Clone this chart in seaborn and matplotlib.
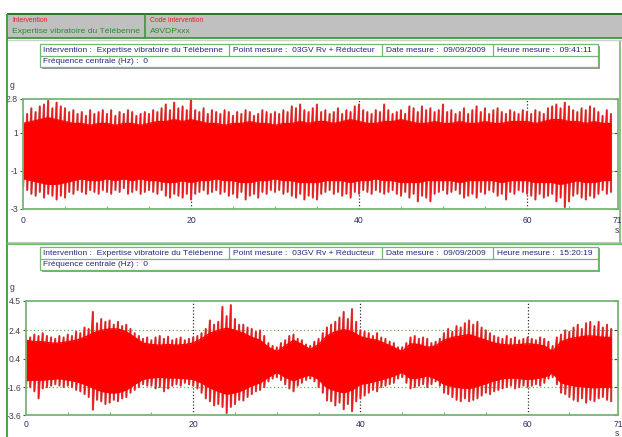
import numpy as np
import matplotlib
matplotlib.use("Agg")
import matplotlib.pyplot as plt
import seaborn as sns
from matplotlib.patches import Rectangle
from matplotlib.lines import Line2D

# ---------------- data ----------------
core_step = 1.0      # s
spike_step = 0.5     # s

# panel 1 (09:41:11) : core band and spike envelope (g)
top_core_hi = [1.5, 1.6, 1.7, 1.8, 1.7, 1.6, 1.5, 1.5, 1.4, 1.5,
               1.5, 1.4, 1.5, 1.5, 1.4, 1.5, 1.6, 1.6, 1.7, 1.6,
               1.7, 1.6, 1.5, 1.5, 1.4, 1.5, 1.5, 1.6, 1.5, 1.5,
               1.4, 1.5, 1.5, 1.6, 1.5, 1.6, 1.6, 1.5, 1.6, 1.7,
               1.6, 1.5, 1.5, 1.6, 1.6, 1.7, 1.6, 1.5, 1.5, 1.6,
               1.5, 1.5, 1.6, 1.5, 1.5, 1.6, 1.5, 1.5, 1.6, 1.6,
               1.6, 1.5, 1.6, 1.7, 1.7, 1.6, 1.6, 1.5, 1.6, 1.5, 1.5]
top_core_lo = [-1.4, -1.5, -1.6, -1.7, -1.7, -1.6, -1.5, -1.4, -1.5, -1.5,
               -1.4, -1.5, -1.4, -1.5, -1.4, -1.5, -1.5, -1.6, -1.6, -1.5,
               -1.6, -1.5, -1.5, -1.4, -1.5, -1.5, -1.6, -1.6, -1.5, -1.5,
               -1.4, -1.5, -1.5, -1.6, -1.6, -1.6, -1.5, -1.5, -1.5, -1.6,
               -1.5, -1.5, -1.4, -1.5, -1.5, -1.6, -1.6, -1.6, -1.5, -1.5,
               -1.5, -1.5, -1.6, -1.5, -1.5, -1.5, -1.5, -1.6, -1.5, -1.5,
               -1.5, -1.6, -1.6, -1.6, -1.7, -1.6, -1.5, -1.6, -1.6, -1.5, -1.5]
top_spike_hi = [1.9, 2.0, 2.3, 2.1, 2.4, 2.5, 2.7, 2.3, 2.6, 2.4,
                2.3, 2.1, 2.2, 2.0, 2.1, 1.9, 2.2, 2.0, 2.1, 2.2,
                2.0, 2.2, 1.9, 2.1, 2.0, 2.2, 2.1, 1.9, 2.0, 2.1,
                2.0, 2.2, 2.1, 2.3, 2.5, 2.2, 2.6, 2.3, 2.4, 2.2,
                2.8, 2.2, 2.1, 2.3, 2.0, 2.2, 2.1, 2.0, 2.2, 2.1,
                1.9, 2.1, 2.0, 2.2, 2.1, 1.9, 2.0, 2.2, 2.1, 2.0,
                2.1, 2.0, 2.2, 2.1, 2.4, 2.3, 2.5, 2.2, 2.1, 2.3,
                2.5, 2.1, 2.2, 2.0, 2.1, 2.3, 2.0, 2.2, 2.1, 2.4,
                2.5, 2.2, 2.1, 2.0, 2.2, 2.1, 2.5, 2.2, 2.0, 2.1,
                2.2, 2.0, 2.4, 2.3, 2.1, 2.4, 2.2, 2.3, 2.1, 2.2,
                2.5, 2.1, 2.2, 2.0, 2.1, 2.3, 2.0, 2.2, 2.4, 2.1,
                2.3, 2.0, 2.2, 2.3, 2.1, 2.0, 2.2, 2.1, 2.0, 2.2,
                2.1, 2.0, 2.2, 2.1, 2.0, 2.3, 2.4, 2.5, 2.3, 2.6,
                2.4, 2.2, 2.1, 2.3, 2.2, 2.4, 2.3, 2.1, 1.9, 2.2, 2.0]
top_spike_lo = [-1.9, -2.0, -2.2, -2.3, -2.1, -2.4, -2.2, -2.3, -2.5, -2.3,
                -2.4, -2.1, -2.2, -2.0, -2.1, -2.2, -2.0, -2.1, -2.2, -2.0,
                -2.1, -2.2, -2.0, -2.1, -1.9, -2.2, -2.1, -2.0, -2.2, -2.1,
                -2.0, -2.1, -2.2, -2.0, -2.3, -2.4, -2.2, -2.3, -2.4, -2.2,
                -2.5, -2.2, -2.1, -2.0, -2.2, -2.1, -2.0, -2.2, -2.1, -2.3,
                -2.2, -2.4, -2.1, -2.5, -2.3, -2.2, -2.4, -2.1, -2.2, -2.0,
                -2.1, -2.0, -2.2, -2.1, -2.3, -2.4, -2.2, -2.5, -2.3, -2.4,
                -2.5, -2.2, -2.1, -2.0, -2.2, -2.1, -2.3, -2.2, -2.4, -2.1,
                -2.2, -2.0, -2.1, -2.2, -2.0, -2.1, -2.2, -2.1, -2.0, -2.2,
                -2.3, -2.1, -2.4, -2.2, -2.6, -2.3, -2.4, -2.6, -2.2, -2.1,
                -2.0, -2.2, -2.1, -2.0, -2.2, -2.4, -2.3, -2.2, -2.4, -2.1,
                -2.2, -2.0, -2.1, -2.3, -2.2, -2.5, -2.1, -2.2, -2.0, -2.1,
                -2.2, -2.3, -2.5, -2.2, -2.4, -2.3, -2.2, -2.6, -2.4, -2.9,
                -2.6, -2.3, -2.2, -2.4, -2.5, -2.3, -2.4, -2.2, -2.0, -2.2, -2.1]

# panel 2 (15:20:19)
bot_core_hi = [1.7, 1.6, 1.6, 1.5, 1.5, 1.6, 1.7, 1.9, 2.2, 2.4,
               2.5, 2.5, 2.3, 1.9, 1.5, 1.4, 1.35, 1.4, 1.35, 1.4,
               1.5, 1.8, 2.2, 2.4, 2.55, 2.4, 2.2, 1.9, 1.7, 1.2,
               0.9, 1.3, 1.7, 1.4, 1.05, 1.4, 2.0, 2.3, 2.45, 2.3,
               1.95, 1.8, 1.7, 1.45, 1.2, 0.9, 1.45, 1.4, 1.2, 1.3,
               1.7, 1.9, 2.0, 2.1, 1.9, 1.7, 1.5, 1.4, 1.35, 1.4,
               1.45, 1.4, 1.3, 0.9, 1.6, 1.8, 1.9, 2.0, 2.0, 1.9, 1.9]
bot_core_lo = [-1.15, -1.1, -1.1, -1.05, -1.0, -1.1, -1.2, -1.4, -1.65, -1.9,
               -2.0, -2.0, -1.8, -1.4, -1.05, -0.95, -0.9, -0.95, -0.95, -1.0,
               -1.05, -1.3, -1.65, -1.9, -2.1, -2.0, -1.8, -1.5, -1.3, -0.9,
               -0.55, -0.9, -1.15, -0.9, -0.75, -1.05, -1.65, -1.85, -2.0, -1.8,
               -1.4, -1.3, -1.15, -1.0, -0.8, -0.55, -1.0, -0.95, -0.8, -1.0,
               -1.4, -1.55, -1.65, -1.7, -1.55, -1.35, -1.15, -1.0, -0.95, -1.0,
               -1.05, -1.0, -0.9, -0.6, -1.3, -1.45, -1.55, -1.6, -1.65, -1.6, -1.6]
bot_spike_hi = [2.0, 1.9, 2.1, 2.0, 2.2, 2.0, 1.9, 1.8, 2.0, 1.9,
                2.1, 2.0, 2.3, 2.2, 2.6, 2.5, 3.7, 2.9, 3.2, 3.0,
                3.1, 2.8, 3.0, 2.7, 2.8, 2.5, 2.2, 2.0, 1.8, 1.9,
                1.7, 1.9, 2.0, 1.8, 1.95, 1.7, 1.8, 1.9, 1.7, 1.8,
                1.9, 2.0, 2.2, 2.5, 3.1, 2.8, 3.0, 4.06, 3.4, 4.18,
                3.2, 2.8, 2.8, 2.6, 2.5, 2.3, 2.4, 2.0, 1.5, 1.3,
                1.2, 1.5, 1.7, 2.0, 2.1, 1.8, 1.7, 1.4, 1.3, 1.6,
                1.8, 2.2, 2.6, 2.8, 3.0, 3.3, 3.7, 3.2, 3.9, 3.0,
                2.4, 2.3, 2.2, 2.0, 2.2, 1.9, 1.8, 1.6, 1.5, 1.2,
                1.2, 1.5, 1.9, 2.0, 1.8, 1.9, 1.8, 1.5, 1.6, 1.8,
                2.2, 2.5, 2.3, 2.7, 2.6, 2.9, 3.1, 2.8, 3.0, 2.6,
                2.4, 2.2, 2.0, 1.9, 1.8, 2.0, 1.8, 1.9, 1.7, 1.8,
                1.9, 1.8, 1.7, 1.9, 1.8, 1.6, 1.3, 1.9, 2.1, 2.4,
                2.3, 2.6, 2.8, 2.5, 2.9, 3.0, 2.7, 3.0, 2.6, 2.8, 2.5]
bot_spike_lo = [-1.5, -1.6, -1.9, -2.4, -1.7, -1.6, -1.5, -1.4, -1.5, -1.6,
                -1.5, -1.6, -1.8, -1.9, -2.1, -2.3, -3.2, -2.5, -2.6, -2.8,
                -2.7, -2.5, -2.6, -2.4, -2.3, -2.0, -1.8, -1.6, -1.4, -1.5,
                -1.5, -1.7, -1.6, -1.9, -1.7, -1.5, -1.4, -1.5, -1.3, -1.4,
                -1.5, -1.7, -2.0, -2.4, -2.6, -2.9, -2.8, -3.0, -3.43, -3.0,
                -2.8, -2.5, -2.55, -2.3, -2.1, -1.9, -1.8, -1.6, -1.2, -1.0,
                -0.9, -1.1, -1.4, -1.7, -1.9, -1.5, -1.3, -1.1, -1.0, -1.2,
                -1.6, -2.0, -2.55, -2.6, -2.9, -2.7, -3.17, -2.8, -3.3, -2.6,
                -2.4, -2.2, -2.0, -1.8, -1.9, -1.6, -1.5, -1.4, -1.3, -1.0,
                -0.9, -1.3, -1.7, -1.6, -1.5, -1.4, -1.6, -1.4, -1.2, -1.5,
                -2.0, -2.1, -2.3, -2.5, -2.6, -2.4, -2.6, -2.5, -2.4, -2.2,
                -2.0, -2.1, -1.9, -1.8, -1.7, -1.6, -1.5, -1.7, -1.6, -1.5,
                -1.6, -1.5, -1.4, -1.5, -1.3, -1.0, -0.9, -1.4, -2.0, -2.1,
                -2.3, -2.5, -2.6, -2.4, -2.7, -2.5, -2.6, -2.4, -2.3, -2.5, -2.6]

x_tick_values = [0, 20, 40, 60]
x_end_label = "71"
top_yticks = [2.8, 1, -1, -3]
top_ytick_labels = ["2.8", "1", "-1", "-3"]
bot_yticks = [4.5, 2.4, 0.4, -1.6, -3.6]
bot_ytick_labels = ["4.5", "2.4", "0.4", "-1.6", "-3.6"]

header_labels = ["Intervention", "Code intervention"]
header_values = ["Expertise vibratoire du Télébenne", "A9VDPxxx"]
info_row1 = ["Intervention :  Expertise vibratoire du Télébenne",
             "Point mesure :  03GV Rv + Réducteur",
             "Date mesure :  09/09/2009"]
info_time = ["Heure mesure :  09:41:11", "Heure mesure :  15:20:19"]
info_row2 = "Fréquence centrale (Hz) :  0"

# ---------------- style ----------------
sns.set_theme(style="white")
plt.rcParams["font.family"] = ["Liberation Sans", "DejaVu Sans"]

W, H = 622, 437
fig = plt.figure(figsize=(W / 100, H / 100), dpi=100)
fig.patch.set_facecolor("white")


def fx(px):
    return px / W


def fy(py):
    return 1 - py / H


def hline(x0, x1, y, color, lw=1.0, z=3):
    fig.add_artist(Line2D([fx(x0), fx(x1)], [fy(y), fy(y)], color=color, lw=lw, zorder=z,
                          transform=fig.transFigure, solid_capstyle="butt"))


def vline(x, y0, y1, color, lw=1.0, z=3):
    fig.add_artist(Line2D([fx(x), fx(x)], [fy(y0), fy(y1)], color=color, lw=lw, zorder=z,
                          transform=fig.transFigure, solid_capstyle="butt"))


def rect(x0, y0, x1, y1, fc, ec="none", lw=0.0):
    fig.add_artist(Rectangle((fx(x0), fy(y1)), fx(x1) - fx(x0), fy(y0) - fy(y1),
                             facecolor=fc, edgecolor=ec, lw=lw, transform=fig.transFigure))


GREEN_DARK = "#1f6f1f"
GREEN = "#3d963d"
GREEN_LIGHT = "#72b872"
NAVY = "#24287a"
INFO_FS = 6.0

# header bar
rect(7, 13.5, 622, 37.5, "#c0c0c0")
hline(7, 622, 13.5, GREEN_DARK, 1.3)
hline(7, 622, 37.5, GREEN, 1.3)
hline(7, 622, 39.8, "#cfcfcf", 1.0)
vline(145, 13.5, 37.5, GREEN, 1.2)
fig.text(fx(12), fy(20), header_labels[0], color="#e02020", fontsize=4.9, va="center")
fig.text(fx(150), fy(20), header_labels[1], color="#e02020", fontsize=4.9, va="center")
fig.text(fx(12), fy(31.5), header_values[0], color="#2a8a2a", fontsize=6.1, va="center")
fig.text(fx(150), fy(31.5), header_values[1], color="#2a8a2a", fontsize=6.1, va="center")

# window frame
vline(7.2, 13.5, 437, GREEN, 1.3)
vline(619.5, 40, 243, GREEN_LIGHT, 1.2, z=0)
hline(7, 622, 242.5, "#a8b4a8", 1.8)
hline(7, 622, 243.8, GREEN_LIGHT, 0.8)


def info_box(y0, time_text):
    y1 = y0 + 23
    ym = y0 + 11.5
    rect(41.5, y0 + 1.5, 600, y1 + 1.5, "#9a9a9a")
    rect(40, y0, 598, y1, "white", GREEN_LIGHT, 0.9)
    hline(40, 598, ym, GREEN_LIGHT, 0.9)
    for xd in (229, 382, 493):
        vline(xd, y0, ym, GREEN_LIGHT, 0.9)
    for xt, txt in zip((43, 233, 386), info_row1):
        fig.text(fx(xt), fy((y0 + ym) / 2 + 0.3), txt, color=NAVY, fontsize=INFO_FS, va="center")
    fig.text(fx(497), fy((y0 + ym) / 2 + 0.3), time_text, color=NAVY, fontsize=INFO_FS, va="center")
    fig.text(fx(43), fy((ym + y1) / 2 + 0.3), info_row2, color=NAVY, fontsize=INFO_FS, va="center")


info_box(44, info_time[0])
info_box(247, info_time[1])

XMAX = 70.8


def panel(left_px, pxs, y_top_px, y_bot_px, ymin, ymax, core_hi, core_lo, sp_hi, sp_lo,
          yticks, ylabels, hgrid, xpad, g_y, s_y):
    ax = fig.add_axes([fx(left_px), fy(y_bot_px), XMAX * pxs / W, (y_bot_px - y_top_px) / H])
    ax.set_facecolor("white")
    t_core = np.arange(len(core_hi)) * core_step
    t_sp = np.arange(len(sp_hi)) * spike_step
    for yv in hgrid:
        ax.axhline(yv, color="#6ab04c", ls=(0, (1, 2)), lw=0.9, zorder=0)
    for xv in x_tick_values[1:]:
        ax.axvline(xv, color="#303030", ls=(0, (1, 1.6)), lw=0.9, zorder=0)
    # vibration trace drawn as a zigzag through the read peaks
    xs = np.repeat(t_sp, 2)
    ys = np.column_stack([sp_hi, sp_lo]).ravel()
    sns.lineplot(x=xs, y=ys, sort=False, estimator=None, color="#c84a4a", lw=1.5,
                 ax=ax, zorder=1)
    sns.lineplot(x=xs, y=ys, sort=False, estimator=None, color="#f01818", lw=0.8,
                 ax=ax, zorder=1.2)
    ax.fill_between(t_core, core_lo, core_hi, color="#ff0000", lw=0, zorder=2)
    sns.lineplot(x=t_core, y=core_hi, color="#ff0000", lw=1.0, ax=ax, zorder=2)
    sns.lineplot(x=t_core, y=core_lo, color="#ff0000", lw=1.0, ax=ax, zorder=2)
    ax.set_xlim(0, XMAX)
    ax.set_ylim(ymin, ymax)
    ax.set_xticks(x_tick_values + [XMAX])
    ax.set_xticklabels([str(v) for v in x_tick_values] + [x_end_label])
    ax.set_xticks(np.arange(5, 70, 5), minor=True)
    ax.set_yticks(yticks)
    ax.set_yticklabels(ylabels)
    ax.tick_params(axis="x", which="major", direction="in", length=3, width=0.8,
                   color=GREEN_LIGHT, labelsize=6.2, labelcolor="#2c2c66", pad=xpad)
    ax.tick_params(axis="x", which="minor", direction="in", length=2, width=0.8,
                   color=GREEN_LIGHT, bottom=True)
    ax.tick_params(axis="y", which="major", direction="out", length=2.5, width=0.8,
                   color="#505050", labelsize=6.2, labelcolor="#404040", pad=1.2,
                   left=True, right=False)
    sec = ax.secondary_yaxis("right")
    sec.set_yticks(yticks)
    sec.tick_params(direction="in", length=3, width=0.8, color="#505050", labelright=False)
    sec.spines["right"].set_visible(False)
    for sp in ax.spines.values():
        sp.set_color(GREEN_LIGHT)
        sp.set_linewidth(1.3)
    ax.set_xlabel("")
    ax.set_ylabel("")
    fig.text(fx(10), fy(g_y), "g", color="#404040", fontsize=6.2, va="center")
    fig.text(fx(617), fy(s_y), "s", color="#404040", fontsize=6.2, va="center", ha="center")
    return ax


assert len(top_core_hi) == len(top_core_lo) == 71
assert len(bot_core_hi) == len(bot_core_lo) == 71
assert len(top_spike_hi) == len(top_spike_lo) == 141
assert len(bot_spike_hi) == len(bot_spike_lo) == 141

panel(23, 8.4, 98.8, 209.0, -3, 2.8, top_core_hi, top_core_lo, top_spike_hi, top_spike_lo,
      top_yticks, top_ytick_labels, [1, -1], 5.0, 86, 231)
panel(26, 8.36, 300.6, 415.4, -3.6, 4.5, bot_core_hi, bot_core_lo, bot_spike_hi, bot_spike_lo,
      bot_yticks, bot_ytick_labels, [2.4, 0.4, -1.6], 3.0, 287, 433)

fig.savefig("out.png", dpi=100, facecolor="white")
